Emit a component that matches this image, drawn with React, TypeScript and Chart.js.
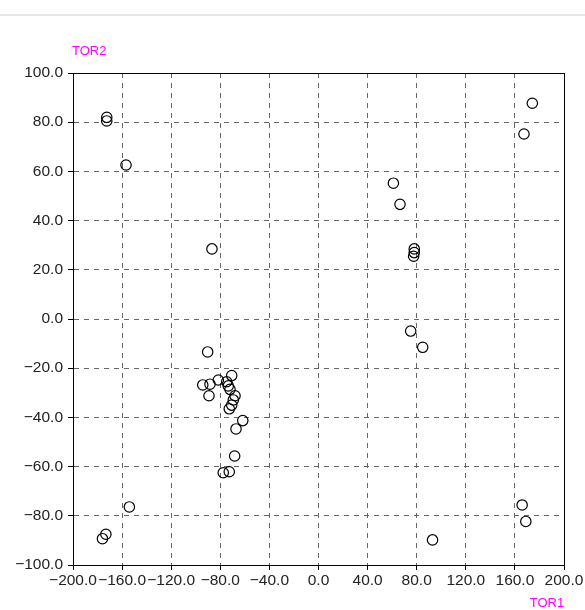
import React, { useEffect, useRef } from "react";
import { Chart, registerables } from "chart.js";

Chart.register(...registerables);

const tor1: number[] = [
  -172.5, -172.5, -156.8, -86.8, 61.0, 66.4, 78.0, 78.0, 77.5, 75.1, 84.9, 174.2, 167.4,
  -90.3, -70.7, -81.6, -94.3, -88.4, -74.8, -73.5, -72.1, -89.2, -68.0, -69.4, -70.7,
  -72.7, -61.7, -67.2, -68.3, -77.6, -72.7, -154.1, -173.2, -176.0, 165.9, 168.9, 92.9,
];
const tor2: number[] = [
  82.0, 80.5, 62.6, 28.5, 55.2, 46.6, 28.5, 27.0, 25.5, -4.9, -11.5, 87.7, 75.2,
  -13.4, -23.0, -24.8, -26.8, -26.5, -25.5, -27.2, -28.6, -31.2, -31.2, -32.9, -35.0,
  -36.5, -41.3, -44.7, -55.7, -62.5, -62.1, -76.4, -87.5, -89.3, -75.6, -82.3, -89.8,
];

const xTitle = "TOR1";
const yTitle = "TOR2";
const xRange = [-200, 200];
const yRange = [-100, 100];
const xStep = 40;
const yStep = 20;

const TICK_FONT = "'Liberation Sans', Arial, sans-serif";
const TITLE_FONT = "'Liberation Sans', Arial, sans-serif";

const fmt = (v: number) => {
  const s = Number(v).toFixed(1);
  return s.startsWith("-") ? "\u2212" + s.slice(1) : s;
};

export default function App() {
  const ref = useRef<HTMLCanvasElement | null>(null);

  useEffect(() => {
    if (!ref.current) return;
    const points = tor1.map((x, i) => ({ x, y: tor2[i] }));

    const framePlugin = {
      id: "frame",
      afterDraw(chart: any) {
        const { ctx, chartArea } = chart;
        ctx.save();
        ctx.setLineDash([]);
        ctx.strokeStyle = "#000";
        ctx.lineWidth = 1;
        ctx.strokeRect(
          Math.round(chartArea.left) + 0.5,
          Math.round(chartArea.top) + 0.5,
          Math.round(chartArea.right - chartArea.left),
          Math.round(chartArea.bottom - chartArea.top)
        );
        ctx.fillStyle = "#ff00ff";
        ctx.font = "13px " + TITLE_FONT;
        ctx.textBaseline = "middle";
        ctx.textAlign = "left";
        ctx.fillText(yTitle, chartArea.left - 1, 51);
        ctx.textAlign = "center";
        ctx.fillText(xTitle, chartArea.right - 17, 603);
        ctx.restore();
      },
    };

    const chart = new Chart(ref.current, {
      type: "scatter",
      data: {
        datasets: [
          {
            data: points,
            pointStyle: "circle",
            pointRadius: 5.2,
            pointBorderWidth: 1.2,
            pointBorderColor: "#000",
            pointBackgroundColor: "rgba(0,0,0,0)",
            showLine: false,
          },
        ],
      },
      options: {
        responsive: false,
        animation: false,
        events: [],
        layout: { padding: { top: 73, right: 21, left: 0, bottom: 0 } },
        plugins: {
          legend: { display: false },
          tooltip: { enabled: false },
          title: { display: false },
        },
        scales: {
          x: {
            type: "linear",
            min: xRange[0],
            max: xRange[1],
            afterFit: (s: any) => {
              s.height = 45;
            },
            ticks: {
              stepSize: xStep,
              autoSkip: false,
              maxRotation: 0,
              minRotation: 0,
              padding: 1,
              color: "#222",
              font: { family: TICK_FONT, size: 15.5 },
              callback: (v: any) => fmt(v),
            },
            grid: {
              color: "#666",
              tickColor: "#000",
              tickLength: 5,
              tickBorderDash: [],
            },
            border: { display: true, color: "#000", width: 1, dash: [5, 5] },
          },
          y: {
            type: "linear",
            min: yRange[0],
            max: yRange[1],
            afterFit: (s: any) => {
              s.width = 73;
            },
            ticks: {
              stepSize: yStep,
              autoSkip: false,
              padding: 5,
              color: "#222",
              font: { family: TICK_FONT, size: 15.5 },
              callback: (v: any) => fmt(v),
            },
            grid: {
              color: "#666",
              tickColor: "#000",
              tickLength: 5,
              tickBorderDash: [],
            },
            border: { display: true, color: "#000", width: 1, dash: [5, 5] },
          },
        },
      },
      plugins: [framePlugin],
    } as any);

    return () => chart.destroy();
  }, []);

  return (
    <div
      style={{
        position: "absolute",
        left: 0,
        top: 0,
        width: 585,
        height: 610,
        background: "#fff",
      }}
    >
      <div
        style={{
          position: "absolute",
          left: 0,
          top: 14,
          width: 585,
          height: 2,
          background: "#e5e5e5",
        }}
      />
      <canvas
        ref={ref}
        width={585}
        height={610}
        style={{ position: "absolute", left: 0, top: 0, width: 585, height: 610 }}
      />
    </div>
  );
}
